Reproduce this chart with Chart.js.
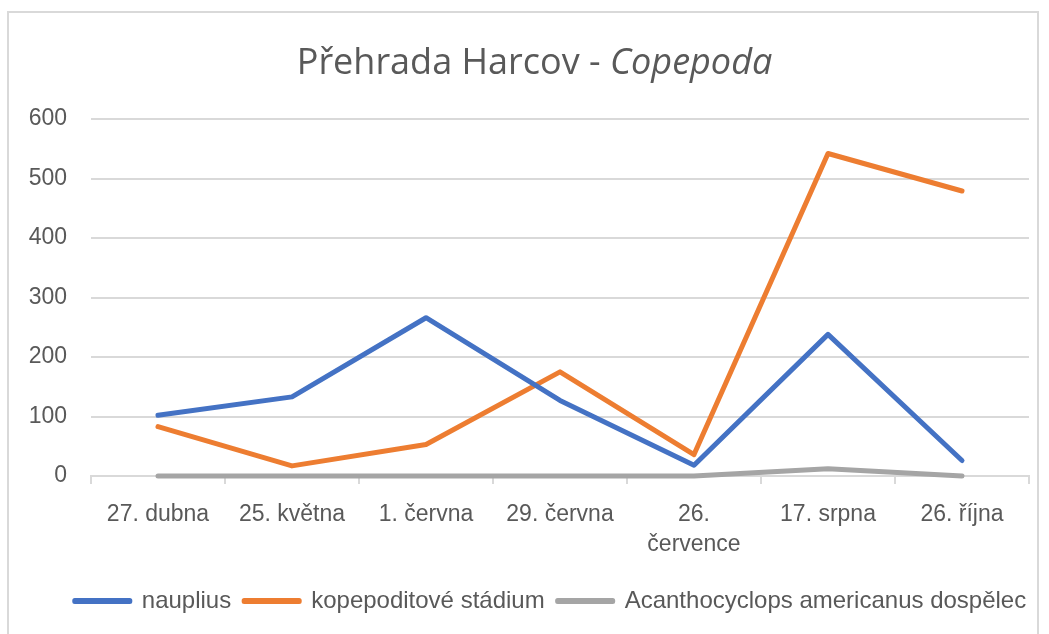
<!DOCTYPE html>
<html>
<head>
<meta charset="utf-8">
<script src="https://cdn.jsdelivr.net/npm/chart.js@4"></script>
<style>
  html, body { margin: 0; padding: 0; background: #fff; }
  #wrap { position: relative; width: 1049px; height: 634px; }
  #frame { position: absolute; left: 7px; top: 11px; width: 1032px; height: 640px;
           border: 2px solid #d9d9d9; border-bottom: none; box-sizing: border-box; }
  canvas { position: absolute; left: 0; top: 0; }
</style>
</head>
<body>
<div id="wrap">
  <div id="frame"></div>
  <canvas id="copepoda-chart" width="1049" height="634"></canvas>
</div>
<script>
/*==== data ====*/
const labels_dates = [
    '27. dubna',
    '25. května',
    '1. června',
    '29. června',
    ['26.', 'července'],
    '17. srpna',
    '26. října'
];
const nauplius = [102, 133, 266, 127, 18, 238, 26];
const kopepodit = [83, 17, 53, 175, 36, 542, 479];
const acanthocyclops = [0, 0, 0, 0, 0, 12, 0];
const y_ticks = [0, 100, 200, 300, 400, 500, 600];

const title_plain = 'Přehrada Harcov - ';
const title_italic = 'Copepoda';

const textColor = '#595959';
const gridColor = '#d9d9d9';
const fontFamily = "'Liberation Sans', Arial, sans-serif";
const titleFont = "'Open Sans', 'Noto Sans', sans-serif";

function lineSet(label, values, color) {
    return {
        label: label,
        data: values,
        borderColor: color,
        backgroundColor: color,
        borderWidth: 5,
        pointRadius: 0,
        pointHoverRadius: 0,
        tension: 0,
        clip: false,
        borderCapStyle: 'round',
        borderJoinStyle: 'round'
    };
}

// title with an italic part (the built-in title can only use one font)
const mixedTitle = {
    id: 'mixedTitle',
    afterLayout: function(chart) {
        // the legend sits a bit right of the canvas centre
        chart.legend.left += 31;
        chart.legend.right += 31;
    },
    afterDraw: function(chart) {
        var tb = chart.titleBlock;
        var ctx = chart.ctx;
        ctx.save();
        ctx.fillStyle = textColor;
        ctx.textBaseline = 'middle';
        ctx.textAlign = 'left';
        ctx.font = '36px ' + titleFont;
        var w1 = ctx.measureText(title_plain).width;
        ctx.font = 'italic 36px ' + titleFont;
        var w2 = ctx.measureText(title_italic).width;
        var cx = (tb.left + tb.right) / 2 + 15;
        var cy = tb.top + 18 + 18;
        var x = cx - (w1 + w2) / 2;
        ctx.font = '36px ' + titleFont;
        ctx.fillText(title_plain, x, cy);
        ctx.font = 'italic 36px ' + titleFont;
        ctx.fillText(title_italic, x + w1, cy);
        ctx.restore();
    }
};

const data_copepoda = {
    labels: labels_dates,
    datasets: [
        lineSet('nauplius', nauplius, '#4472C4'),
        lineSet('kopepoditové stádium', kopepodit, '#ED7D31'),
        lineSet('Acanthocyclops americanus dospělec', acanthocyclops, '#A5A5A5')
    ]
};

/*=== config ====*/
const config_copepoda = {
    type: 'line',
    data: data_copepoda,
    plugins: [mixedTitle],
    options: {
        responsive: false,
        animation: false,
        layout: { padding: { left: 10, right: 20, top: 28, bottom: 11 } },
        plugins: {
            title: {
                display: true,
                text: title_plain + title_italic,
                color: 'rgba(0,0,0,0)',
                font: { family: titleFont, size: 30, weight: 'normal', lineHeight: 1.2 },
                padding: { top: 18, bottom: 37 }
            },
            legend: {
                position: 'bottom',
                labels: {
                    color: textColor,
                    font: { family: fontFamily, size: 24 },
                    boxWidth: 55,
                    boxHeight: 1,
                    padding: 13
                }
            },
            tooltip: { enabled: false }
        },
        scales: {
            x: {
                offset: true,
                afterFit: function(axis) { axis.height = 100; },
                grid: {
                    offset: true,
                    drawOnChartArea: false,
                    drawTicks: true,
                    tickLength: 8,
                    color: gridColor,
                    lineWidth: 2
                },
                border: { color: gridColor, width: 2 },
                ticks: {
                    color: textColor,
                    maxRotation: 0,
                    autoSkip: false,
                    padding: 16,
                    font: { family: fontFamily, size: 23, lineHeight: 1.3 }
                }
            },
            y: {
                min: 0,
                max: 600,
                afterBuildTicks: function(axis) {
                    axis.ticks = y_ticks.map(function(v) { return { value: v }; });
                },
                afterFit: function(axis) { axis.width = 81; },
                grid: { color: gridColor, lineWidth: 2, drawTicks: false },
                border: { display: false },
                ticks: {
                    color: textColor,
                    padding: 24,
                    font: { family: fontFamily, size: 23 }
                }
            }
        }
    }
};

/*===== render graphic =====*/
var copepodaChart = new Chart(document.getElementById('copepoda-chart'), config_copepoda);
</script>
</body>
</html>
